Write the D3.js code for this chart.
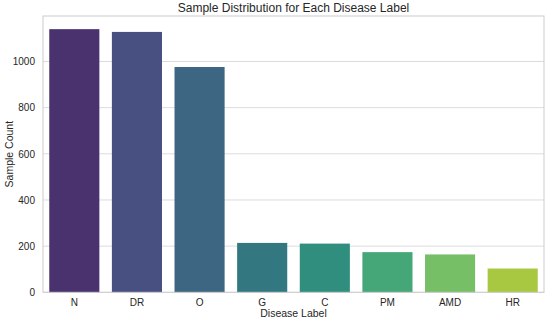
<!DOCTYPE html>
<html>
<script src='https://d3js.org/d3.v7.min.js'></script>
<style>
 body {margin:0; background:#fff;}
 text {font-family: 'Liberation Sans', Arial, sans-serif; fill:#262626;}
</style>
<body>
<svg width=550 height=321></svg>
<script>

var labels = ['N','DR','O','G','C','PM','AMD','HR'];
var counts = [1140,1128,976,214,211,174,164,103];
var yTicks = [0,200,400,600,800,1000];

var mLeft = 43, mRight = 544, mTop = 16, mBottom = 292.3;

var svg = d3.select('svg');

var x = d3.scaleBand().domain(labels).range([mLeft,mRight]).paddingInner(0.2).paddingOuter(0.1);
var y = d3.scaleLinear().domain([0, d3.max(counts)*1.05]).range([mBottom,mTop]);

// viridis, desaturated like seaborn
function barColor(i) {
 var c = d3.hsl(d3.interpolateViridis((i+1)/(labels.length+1)));
 c.s = c.s*0.75;
 return c.formatHex();
}

// grid
svg.append('g')
 .selectAll('line')
 .data(yTicks)
 .enter()
  .append('line')
   .attr('x1',mLeft).attr('x2',mRight)
   .attr('y1',function(d){return y(d);}).attr('y2',function(d){return y(d);})
   .attr('stroke','#dcdcdc').attr('stroke-width',1);

svg.append('g')
 .selectAll('rect')
 .data(counts)
 .enter()
  .append('rect')
   .attr('x',function(d,i){return x(labels[i]);})
   .attr('y',function(d){return y(d);})
   .attr('width',x.bandwidth())
   .attr('height',function(d){return mBottom-y(d);})
   .attr('fill',function(d,i){return barColor(i);});

// frame
svg.append('rect')
 .attr('x',mLeft).attr('y',mTop).attr('width',mRight-mLeft).attr('height',mBottom-mTop)
 .attr('fill','none').attr('stroke','#cccccc').attr('stroke-width',1);

// y axis
var ya = svg.append('g')
 .attr('transform','translate('+mLeft+',0)')
 .call(d3.axisLeft(y).tickValues(yTicks).tickSize(0).tickPadding(8).tickFormat(d3.format('d')));
ya.select('.domain').remove();
ya.selectAll('text').style('font-size','10px');

var xa = svg.append('g')
 .attr('transform','translate(0,'+mBottom+')')
 .call(d3.axisBottom(x).tickSize(0).tickPadding(7));
xa.select('.domain').remove();
xa.selectAll('text').style('font-size','10px');

svg.append('text')
 .attr('x',(mLeft+mRight)/2).attr('y',12)
 .attr('text-anchor','middle').style('font-size','12px')
 .text('Sample Distribution for Each Disease Label');

svg.append('text')
 .attr('x',(mLeft+mRight)/2).attr('y',317)
 .attr('text-anchor','middle').style('font-size','10.5px')
 .text('Disease Label');

svg.append('text')
 .attr('transform','translate(13,'+((mTop+mBottom)/2)+') rotate(-90)')
 .attr('text-anchor','middle').style('font-size','10.5px')
 .text('Sample Count');

</script>
</body>
</html>
